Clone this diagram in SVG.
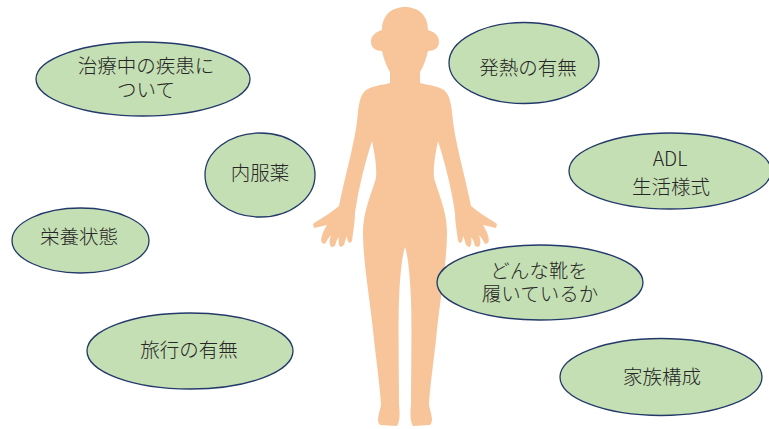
<svg xmlns="http://www.w3.org/2000/svg" xmlns:xlink="http://www.w3.org/1999/xlink" width="769" height="429" viewBox="0 0 769 429">
  <style>
    .bubble { fill: #C5DFB4; stroke: #22396A; stroke-width: 1.3; }
    .label { font-family: "Noto Sans CJK JP", "Noto Sans", sans-serif; font-size: 19.5px; font-weight: 300; fill: #262626; text-anchor: middle; }
    .body { fill: #F8C59A; }
  </style>
  <defs>
    <!-- left half of the figure; the right half is its mirror about x=405 -->
    <path id="half" class="body" d="M407,7 L405,7
      C391,7 382,16 382,30
      C376,32 371,35 371,42 C371,48 376,51 382,51
      C384,60 387,67 390,72
      L390,83
      C382,85 372,86 366,90 C361,94 359,102 358,112
      C356,140 345,175 339,206
      C331,213 320,219 313,224 L314,228 L327,225
      C322,233 320,240 322,243 L325,244 C327,240 329,237 331,235
      C329,241 329,246 332,247 L335,246 C336,242 337,239 339,237
      C338,242 339,247 341,247 L344,245 C345,241 346,238 347,236
      C347,239 348,243 350,243 L352,241 C353,232 355,222 355,213
      C359,185 366,160 372,141
      C375,155 377,168 376,178
      C371,195 363,212 363,232
      C363,262 370,300 373,330
      C376,360 380,385 381,405
      C379,414 376,421 380,425 L397,426
      C400,421 400,412 399,405
      C399,370 398,330 399,300
      C400,275 402,256 405,247
      L407,240 Z"/>
  </defs>

  <g id="figure">
    <use xlink:href="#half"/>
    <use xlink:href="#half" transform="translate(810,0) scale(-1,1)"/>
  </g>

  <g id="connectors"></g>

  <g id="node-disease">
    <ellipse class="bubble" cx="143" cy="79" rx="107" ry="37"/>
    <text class="label" x="146" y="73">治療中の疾患に<tspan x="146" dy="24">ついて</tspan></text>
  </g>

  <g id="node-fever">
    <ellipse class="bubble" cx="524" cy="63" rx="75" ry="40.5"/>
    <text class="label" x="528" y="75">発熱の有無</text>
  </g>

  <g id="node-adl">
    <ellipse class="bubble" cx="670" cy="171" rx="101" ry="38"/>
    <text class="label" x="670" y="166">ADL<tspan x="671" dy="28">生活様式</tspan></text>
  </g>

  <g id="node-medicine">
    <ellipse class="bubble" cx="260" cy="175" rx="55" ry="42"/>
    <text class="label" x="260" y="180">内服薬</text>
  </g>

  <g id="node-nutrition">
    <ellipse class="bubble" cx="80.5" cy="240.5" rx="68.5" ry="32.5"/>
    <text class="label" x="79" y="244">栄養状態</text>
  </g>

  <g id="node-travel">
    <ellipse class="bubble" cx="190" cy="351" rx="103" ry="38"/>
    <text class="label" x="189" y="357">旅行の有無</text>
  </g>

  <g id="node-shoes">
    <ellipse class="bubble" cx="540" cy="282.5" rx="103" ry="37.5"/>
    <text class="label" x="539" y="278">どんな靴を<tspan x="540" dy="23">履いているか</tspan></text>
  </g>

  <g id="node-family">
    <ellipse class="bubble" cx="661" cy="377" rx="101" ry="38.5"/>
    <text class="label" x="662" y="384">家族構成</text>
  </g>
</svg>
